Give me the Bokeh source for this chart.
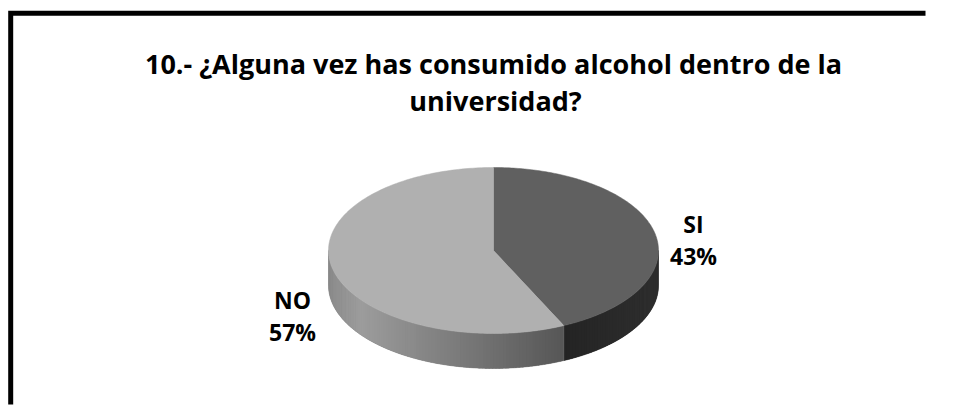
import numpy as np
from bokeh.plotting import figure
from bokeh.models import Range1d
from bokeh.embed import file_html
from bokeh.resources import INLINE
from bokeh.core.properties import value

# ---- data ----
title_lines = ["10.- ¿Alguna vez has consumido alcohol dentro de la", "universidad?"]
categories = ["SI", "NO"]
percentages = [43, 57]

# ---- style / layout ----
W, H = 955, 405
CX, CY, RX, RY, DEPTH = 493, 250, 165, 83, 35
top_colors = ["#606060", "#b0b0b0"]
side_base = ["#262626", "#7a7a7a"]
side_shade_u = [[0.43, 1.0], [-1.0, -0.8, 0.43]]
side_shade_g = [[36, 46], [140, 156, 86]]
label_x = [693, 292]
label_base_y = [223, 299]
label_gap = 32
FONT = "Open Sans"

p = figure(width=W, height=H, x_range=Range1d(0, W), y_range=Range1d(H, 0),
           output_backend="svg", toolbar_location=None, min_border=0,
           x_axis_location=None, y_axis_location=None)
p.grid.visible = False
p.outline_line_color = None
p.background_fill_color = "white"
p.border_fill_color = "white"

# chart frame (decoration): only top and left edges fall inside the picture
p.line(x=[W - 30, 10.2, 10.2], y=[12.8, 12.8, H - 1], line_color="black",
       line_width=5, line_join="miter")

vals = np.array(percentages, dtype=float)
fracs = vals / vals.sum()
ends = np.cumsum(fracs) * 2 * np.pi
starts = ends - fracs * 2 * np.pi


def ex(t):
    return CX + RX * np.sin(t)


def ey(t):
    return CY - RY * np.cos(t)


# sides (front half only)
for i in range(len(categories)):
    a0 = max(starts[i], np.pi / 2)
    a1 = min(ends[i], 3 * np.pi / 2)
    if a1 <= a0:
        continue
    t = np.linspace(a0, a1, 200)
    p.patch(x=list(ex(t)) + list(ex(t[::-1])), y=list(ey(t)) + list(ey(t[::-1]) + DEPTH),
            fill_color=side_base[i], line_color=side_base[i], line_width=0.5)
    n = max(4, int((a1 - a0) / 0.02))
    edges = np.linspace(a0, a1, n + 1)
    xs, ys, cols = [], [], []
    for k in range(n):
        e1 = min(edges[k + 1] + 0.006, a1)
        tt = np.linspace(edges[k], e1, 4)
        px = list(ex(tt)) + list(ex(tt[::-1]))
        py = list(ey(tt)) + list(ey(tt[::-1]) + DEPTH)
        um = np.sin((edges[k] + edges[k + 1]) / 2)
        g = int(round(np.interp(um, side_shade_u[i], side_shade_g[i])))
        xs.append(px)
        ys.append(py)
        cols.append("#%02x%02x%02x" % (g, g, g))
    p.patches(xs=xs, ys=ys, fill_color=cols, line_color=None)

# top faces
txs, tys = [], []
for i in range(len(categories)):
    t = np.linspace(starts[i], ends[i], 200)
    txs.append([CX] + list(ex(t)))
    tys.append([CY] + list(ey(t)))
p.patches(xs=txs, ys=tys, fill_color=top_colors, line_color=top_colors, line_width=0.5)

# labels
p.text(x=label_x, y=label_base_y, text=categories, text_align="center",
       text_baseline="alphabetic", text_font=value(FONT), text_font_style="bold",
       text_font_size="23px", text_color="black")
p.text(x=label_x, y=[b + label_gap for b in label_base_y],
       text=[f"{v}%" for v in percentages], text_align="center",
       text_baseline="alphabetic", text_font=value(FONT), text_font_style="bold",
       text_font_size="23px", text_color="black")

# title
p.text(x=[493, 495], y=[63, 100], text=title_lines, text_align="center",
       text_baseline="alphabetic", text_font=value(FONT), text_font_style="bold",
       text_font_size="27px", text_color="black")

open("out.html", "w").write(file_html(p, INLINE))
